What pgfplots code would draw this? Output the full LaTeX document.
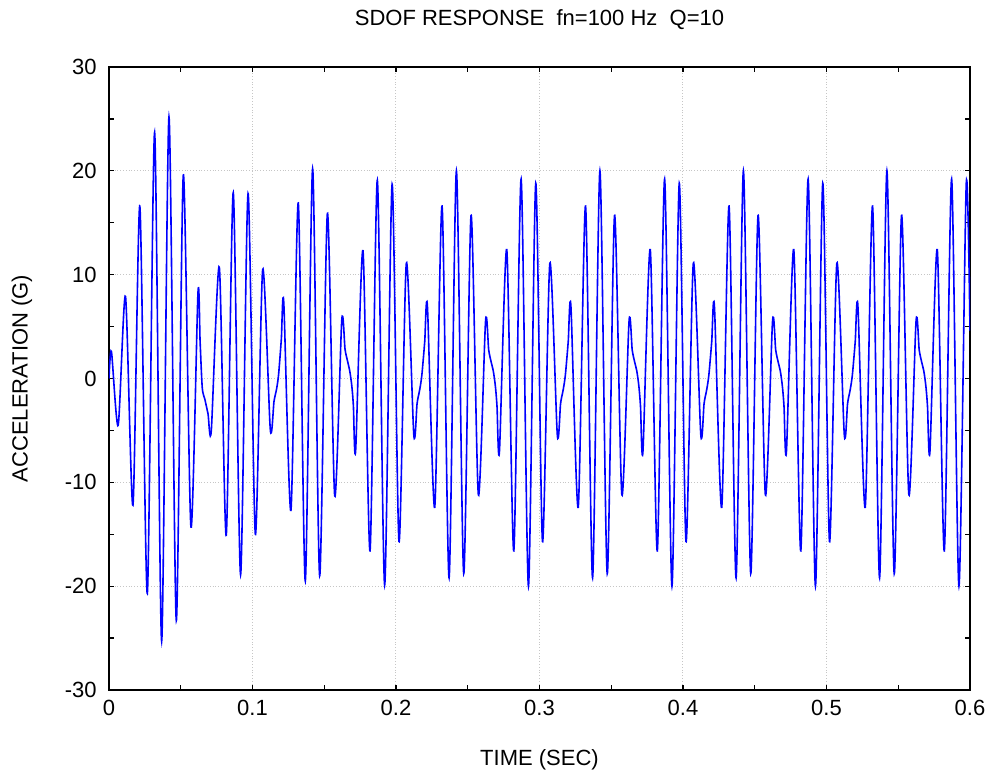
\documentclass[border=0pt]{standalone}
\usepackage{fontspec}
\setmainfont{Liberation Sans}
\usepackage{pgfplots}
\usepackage{pgfplotstable}
\pgfplotsset{compat=1.18}

% time (s)  acceleration (G)
\pgfplotstableread{
t y
0.0000 0
0.0017 2.6
0.0064 -4.5
0.0115 7.9
0.0167 -12.2
0.0215 16.6
0.0267 -20.7
0.0318 23.7
0.0367 -25.3
0.0418 25.2
0.0469 -23.3
0.0518 19.6
0.0571 -14.3
0.0620 8.25
0.0635 3.5
0.0650 -0.9
0.0668 -2.0
0.0690 -3.4
0.0713 -5.0
0.0769 10.7
0.0817 -15.1
0.0866 17.9
0.0917 -18.9
0.0969 17.8
0.1020 -15.0
0.1071 10.5
0.1124 -4.9
0.1150 -2.2
0.1168 -1.0
0.1182 0.4
0.1201 3.8
0.1218 7.3
0.1268 -12.7
0.1319 16.9
0.1368 -19.5
0.1419 20.2
0.1468 -19.0
0.1522 15.9
0.1573 -11.3
0.1622 5.6
0.1645 2.8
0.1662 1.7
0.1678 0.7
0.1692 -0.7
0.1703 -2.6
0.1719 -6.9
0.1770 12.3
0.1819 -16.6
0.1870 19.1
0.1921 -19.9
0.1973 18.7
0.2021 -15.7
0.2072 11.1
0.2124 -5.4
0.2147 -2.4
0.2165 -1.1
0.2180 0.3
0.2200 3.5
0.2219 6.95
0.2270 -12.4
0.2321 16.6
0.2370 -19.2
0.2421 20.0
0.2472 -18.8
0.2523 15.7
0.2574 -11.2
0.2624 5.5
0.2646 2.75
0.2663 1.6
0.2679 0.65
0.2693 -0.8
0.2704 -2.7
0.2721 -7.0
0.2772 12.4
0.2821 -16.6
0.2872 19.2
0.2923 -20.0
0.2974 18.8
0.3021 -15.7
0.3072 11.1
0.3124 -5.4
0.3147 -2.4
0.3165 -1.1
0.3180 0.3
0.3200 3.5
0.3219 6.95
0.3270 -12.4
0.3321 16.6
0.3370 -19.2
0.3421 20.0
0.3472 -18.8
0.3523 15.7
0.3574 -11.2
0.3624 5.5
0.3646 2.75
0.3663 1.6
0.3679 0.65
0.3693 -0.8
0.3704 -2.7
0.3721 -7.0
0.3772 12.4
0.3821 -16.6
0.3872 19.2
0.3923 -20.0
0.3974 18.8
0.4021 -15.7
0.4072 11.1
0.4124 -5.4
0.4147 -2.4
0.4165 -1.1
0.4180 0.3
0.4200 3.5
0.4219 6.95
0.4270 -12.4
0.4321 16.6
0.4370 -19.2
0.4421 20.0
0.4472 -18.8
0.4523 15.7
0.4574 -11.2
0.4624 5.5
0.4646 2.75
0.4663 1.6
0.4679 0.65
0.4693 -0.8
0.4704 -2.7
0.4721 -7.0
0.4772 12.4
0.4821 -16.6
0.4872 19.2
0.4923 -20.0
0.4974 18.8
0.5021 -15.7
0.5072 11.1
0.5124 -5.4
0.5147 -2.4
0.5165 -1.1
0.5180 0.3
0.5200 3.5
0.5219 6.95
0.5270 -12.4
0.5321 16.6
0.5370 -19.2
0.5421 20.0
0.5472 -18.8
0.5523 15.7
0.5574 -11.2
0.5624 5.5
0.5646 2.75
0.5663 1.6
0.5679 0.65
0.5693 -0.8
0.5704 -2.7
0.5721 -7.0
0.5772 12.4
0.5821 -16.6
0.5872 19.2
0.5923 -20.0
0.5974 18.8
0.6000 4.6
}\response

\begin{document}
\begin{tikzpicture}
\useasboundingbox (-54.5pt,-45pt) rectangle (441.5pt,345pt);
\begin{axis}[
  at={(0,0)}, anchor=south west,
  scale only axis, width=430.5pt, height=311.5pt,
  xmin=0, xmax=0.6, ymin=-30, ymax=30,
  xtick={0,0.1,0.2,0.3,0.4,0.5,0.6},
  xticklabels={0,0.1,0.2,0.3,0.4,0.5,0.6},
  ytick={-30,-20,-10,0,10,20,30},
  yticklabels={-30,-20,-10,0,10,20,30},
  minor x tick num=1, minor y tick num=1,
  tick align=inside,
  major tick length=2.5pt, minor tick length=2.5pt,
  tick style={black, line width=0.6pt},
  axis line style={black, line width=1pt},
  grid=major,
  major grid style={gray!45, densely dotted, line width=0.5pt},
  every tick label/.append style={font=\fontsize{11pt}{13pt}\selectfont},
  xticklabel style={inner sep=0pt, anchor=north, yshift=-5pt},
  yticklabel style={inner sep=0pt, anchor=east, xshift=-6pt},
  label style={font=\fontsize{11pt}{13pt}\selectfont},
  xlabel={TIME (SEC)},
  xlabel style={at={(axis description cs:0.5,0)}, anchor=center, yshift=-35pt},
  ylabel={ACCELERATION (G)},
  ylabel style={at={(axis description cs:0,0.5)}, anchor=center, yshift=43.5pt},
  title={SDOF RESPONSE\ \ fn=100 Hz\ \ Q=10},
  title style={at={(axis description cs:0.5,1)}, anchor=center, yshift=17.5pt,
    font=\fontsize{11pt}{13pt}\selectfont},
]
\addplot[blue, line width=0.8pt, smooth, tension=0.45] table[x=t, y=y] {\response};
\end{axis}
\end{tikzpicture}
\end{document}
